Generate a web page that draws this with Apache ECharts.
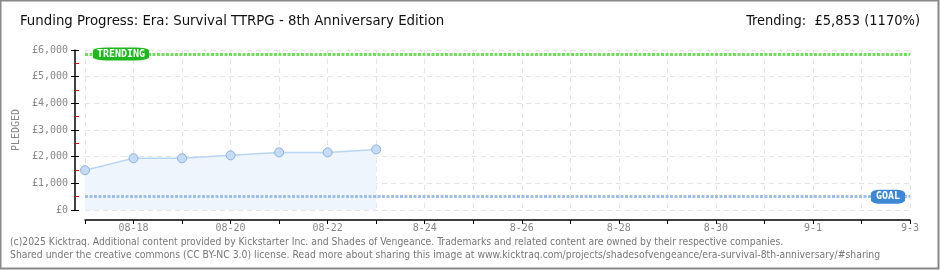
<!DOCTYPE html>
<html>
<head>
<meta charset="utf-8">
<script src="https://cdn.jsdelivr.net/npm/echarts@6/dist/echarts.min.js"></script>
<style>
html,body{margin:0;padding:0;background:#fff;}
#chart{width:940px;height:270px;}
</style>
</head>
<body>
<div id="chart"></div>
<script>
var dates = ['08-17','08-18','08-19','08-20','08-21','08-22','08-23','8-24','8-25','8-26','8-27','8-28','8-29','8-30','8-31','9-1','9-2','9-3'];
var pledged = [1490, 1940, 1940, 2050, 2160, 2160, 2270];
var goal = 500;
var trending = 5853;
var yTicks = [0, 1000, 2000, 3000, 4000, 5000, 6000];
var titleText = 'Funding Progress: Era: Survival TTRPG - 8th Anniversary Edition';
var trendText = 'Trending:  £5,853 (1170%)';
var footer1 = '(c)2025 Kicktraq. Additional content provided by Kickstarter Inc. and Shades of Vengeance. Trademarks and related content are owned by their respective companies.';
var footer2 = 'Shared under the creative commons (CC BY-NC 3.0) license. Read more about sharing this image at www.kicktraq.com/projects/shadesofvengeance/era-survival-8th-anniversary/#sharing';

var chart = echarts.init(document.getElementById('chart'), null, {renderer:'canvas'});
var narrow = '"Liberation Sans Narrow", "DejaVu Sans Condensed", sans-serif';
var mono = '"DejaVu Sans Mono", monospace';
var yMin = yTicks[0], yMax = yTicks[yTicks.length-1];
function tickAxis(interval, color, z) {
  return {
    type: 'value', position: 'left',
    min: yMin, max: yMax, interval: interval,
    offset: 10, z: z,
    axisLine: {show:false, onZero:false},
    axisTick: {show:true, inside:true, length:4, lineStyle:{color:color}},
    axisLabel: {show:false},
    splitLine: {show:false}
  };
}
chart.setOption({
  animation: false,
  backgroundColor: '#fff',
  grid: {left: 85, right: 30, top: 50, bottom: 60, containLabel: false},
  graphic: [
    {type:'rect', shape:{x:0.5, y:0.5, width:938, height:268}, style:{fill:'none', stroke:'#888', lineWidth:2}, silent:true},
    {type:'text', left: 20, top: 14, style:{text: titleText, font: '14.8px ' + narrow, fill:'#111'}},
    {type:'text', right: 20, top: 14, style:{text: trendText, font: '14.5px ' + narrow, fill:'#111'}},
    {type:'text', left: 10, top: 237, style:{text: footer1, font: '10.3px ' + narrow, fill:'#777'}},
    {type:'text', left: 10, top: 250, style:{text: footer2, font: '10.35px ' + narrow, fill:'#777'}}
  ],
  xAxis: {
    type: 'category',
    data: dates,
    boundaryGap: false,
    offset: 10,
    axisLine: {show:true, onZero:false, lineStyle:{color:'#000', width:1.5}},
    axisTick: {show:true, alignWithLabel:true, interval:0, length:4, lineStyle:{color:'#000'}},
    axisLabel: {
      interval: function(i){ return i % 2 === 1; },
      color:'#888', fontSize: 10, fontFamily: mono, margin: 3
    },
    splitLine: {show:true, interval:0, lineStyle:{color:'#e4e4e4', type:[5,4]}}
  },
  yAxis: [{
    type: 'value',
    min: yMin, max: yMax, interval: 1000,
    offset: 10,
    name: 'PLEDGED',
    nameLocation: 'middle',
    nameGap: 50,
    nameTextStyle: {color:'#888', fontSize: 10, fontFamily: mono, letterSpacing: 1},
    axisLine: {show:true, onZero:false, lineStyle:{color:'#000', width:1.5}},
    axisTick: {show:true, length:4, lineStyle:{color:'#000'}},
    axisLabel: {color:'#888', fontSize: 10, fontFamily: mono, margin: 7,
      formatter: function(v){ return '£' + v.toLocaleString('en-US'); }},
    splitLine: {show:true, lineStyle:{color:'#e4e4e4', type:[5,4]}}
  }, tickAxis(500, '#e00', 2), tickAxis(1000, '#000', 3)],
  series: [{
    type: 'line',
    data: pledged,
    symbol: 'circle',
    symbolSize: 9,
    lineStyle: {color:'#b8d5f3', width:1.5},
    itemStyle: {color:'#c4dcf6', borderColor:'#8fb0d8', borderWidth:1},
    areaStyle: {color:'#eef5fd', opacity:1},
    z: 3,
    markLine: {
      silent: true,
      symbol: ['none','none'],
      label: {show:false},
      data: [
        {yAxis: goal, lineStyle:{color:'#9dbfe8', width:3, type:[3,1.5]}},
        {yAxis: trending, lineStyle:{color:'#72dc5e', width:3, type:[3,1.5]}}
      ]
    },
    markPoint: {
      silent: true,
      data: [
        {coord:[dates[0], trending], symbol:'roundRect', symbolSize:[56,13], symbolOffset:[36,0],
         itemStyle:{color:'#1cb81c'},
         label:{show:true, formatter:'TRENDING', color:'#fff', fontSize:10, fontFamily:mono, fontWeight:'bold'}},
        {coord:[dates[dates.length-1], goal], symbol:'roundRect', symbolSize:[34,14], symbolOffset:[-22,0],
         itemStyle:{color:'#3d88d6'},
         label:{show:true, formatter:'GOAL', color:'#fff', fontSize:10, fontFamily:mono, fontWeight:'bold'}}
      ]
    }
  }]
});
</script>
</body>
</html>
